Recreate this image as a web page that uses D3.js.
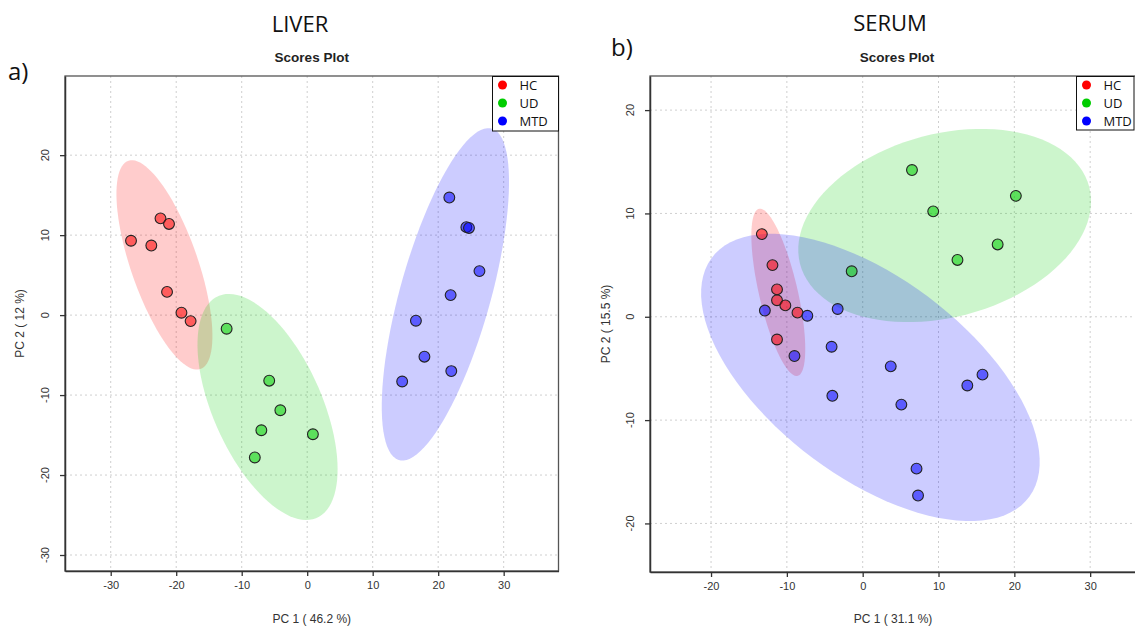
<!DOCTYPE html>
<html>
<head>
<meta charset="utf-8">
<script src="https://cdn.jsdelivr.net/npm/d3@7"></script>
<style>
  body { margin: 0; background: #fff; }
  text { font-family: "Liberation Sans", Arial, sans-serif; }
  .big { font-family: "Open Sans", sans-serif; }
</style>
</head>
<body>
<div id="main"></div>
<script>
// group names and colours
const groups = ["HC", "UD", "MTD"];
const groupColors = { HC: "#ff0000", UD: "#00cd00", MTD: "#0000ff" };

// LIVER scores [PC1, PC2]
const liverHC = [[-26.9, 9.3], [-23.8, 8.7], [-22.4, 12.1], [-21.1, 11.4], [-21.4, 2.9], [-19.2, 0.3], [-17.8, -0.75]];
const liverUD = [[-12.3, -1.7], [-5.8, -8.2], [-4.1, -11.9], [-7.0, -14.4], [-8.0, -17.8], [0.87, -14.9]];
const liverMTD = [[21.7, 14.7], [24.3, 11.0], [24.7, 10.9], [26.3, 5.5], [21.9, 2.5], [16.6, -0.7], [17.9, -5.2], [22.0, -7.0], [14.5, -8.3]];

// SERUM scores [PC1, PC2]
const serumHC = [[-13.3, 8.0], [-11.9, 5.0], [-11.3, 2.65], [-11.3, 1.6], [-10.2, 1.1], [-8.6, 0.4], [-11.3, -2.2]];
const serumUD = [[6.5, 14.2], [20.2, 11.7], [9.3, 10.2], [17.8, 7.0], [12.5, 5.5], [-1.45, 4.4]];
const serumMTD = [[-12.9, 0.6], [-7.3, 0.1], [-3.3, 0.75], [-4.1, -2.9], [-9.0, -3.8], [3.7, -4.8], [15.8, -5.6], [13.8, -6.65], [-4.0, -7.65], [5.1, -8.5], [7.1, -14.7], [7.3, -17.3]];

const liverXTicks = [-30, -20, -10, 0, 10, 20, 30];
const liverYTicks = [-30, -20, -10, 0, 10, 20];
const serumXTicks = [-20, -10, 0, 10, 20, 30];
const serumYTicks = [-20, -10, 0, 10, 20];

const panels = [
  {
    title: "LIVER", tag: "a)", xLab: "PC 1 ( 46.2 %)", yLab: "PC 2 ( 12 %)",
    data: { HC: liverHC, UD: liverUD, MTD: liverMTD },
    xTicks: liverXTicks, yTicks: liverYTicks,
    xDomain: [-36.98, 38.37], yDomain: [-32, 29.9],
    box: { l: 65, r: 558.5, t: 76, b: 571 },
    titleX: 300, tagX: 8, tagY: 80, yTickX: 49, yLabX: 24,
    legend: { l: 492.5, r: 558.5, t: 76.5, b: 131 }
  },
  {
    title: "SERUM", tag: "b)", xLab: "PC 1 ( 31.1 %)", yLab: "PC 2 ( 15.5 %)",
    data: { HC: serumHC, UD: serumUD, MTD: serumMTD },
    xTicks: serumXTicks, yTicks: serumYTicks,
    xDomain: [-28.05, 37.1], yDomain: [-24.7, 23.3],
    box: { l: 650, r: 1144, t: 76, b: 572 },
    titleX: 890, tagX: 611, tagY: 56, yTickX: 634, yLabX: 610,
    legend: { l: 1076.5, r: 1134, t: 76.5, b: 130 }
  }
];

const svg = d3.select("#main").append("svg")
  .attr("width", 1135)
  .attr("height", 626);

// 95% data ellipse, same recipe as ellipse::ellipse on the covariance
function dataEllipse(pts) {
  const n = pts.length;
  const mx = d3.mean(pts, d => d[0]), my = d3.mean(pts, d => d[1]);
  let sxx = 0, syy = 0, sxy = 0;
  pts.forEach(p => {
    sxx += (p[0] - mx) ** 2;
    syy += (p[1] - my) ** 2;
    sxy += (p[0] - mx) * (p[1] - my);
  });
  sxx /= n - 1; syy /= n - 1; sxy /= n - 1;
  const sx = Math.sqrt(sxx), sy = Math.sqrt(syy);
  const d = Math.acos(sxy / (sx * sy));
  const t = Math.sqrt(5.991465);
  return d3.range(0, 101).map(i => {
    const a = i / 100 * 2 * Math.PI;
    return [mx + t * sx * Math.cos(a + d / 2), my + t * sy * Math.cos(a - d / 2)];
  });
}

panels.forEach(p => {
  const b = p.box;
  const x = d3.scaleLinear().domain(p.xDomain).range([b.l, b.r]);
  const y = d3.scaleLinear().domain(p.yDomain).range([b.b, b.t]);
  const g = svg.append("g");

  // titles
  g.append("text").attr("class", "big")
    .attr("x", p.titleX).attr("y", p.title === "LIVER" ? 32 : 31)
    .attr("text-anchor", "middle").attr("font-size", 22).attr("fill", "#111")
    .text(p.title);
  g.append("text").attr("class", "big")
    .attr("x", p.tagX).attr("y", p.tagY)
    .attr("font-size", 24).attr("fill", "#111")
    .text(p.tag);
  g.append("text")
    .attr("x", (b.l + b.r) / 2).attr("y", 62)
    .attr("text-anchor", "middle").attr("font-size", 13.5).attr("font-weight", "bold")
    .attr("fill", "#222")
    .text("Scores Plot");

  // grid
  g.selectAll(".gx").data(p.xTicks).enter().append("line")
    .attr("x1", d => x(d)).attr("x2", d => x(d))
    .attr("y1", b.t).attr("y2", b.b)
    .attr("stroke", "#cfcfcf").attr("stroke-dasharray", "2,3");
  g.selectAll(".gy").data(p.yTicks).enter().append("line")
    .attr("y1", d => y(d)).attr("y2", d => y(d))
    .attr("x1", b.l).attr("x2", b.r)
    .attr("stroke", "#cfcfcf").attr("stroke-dasharray", "2,3");

  // ellipses
  const line = d3.line().x(d => x(d[0])).y(d => y(d[1]));
  groups.forEach(grp => {
    g.append("path")
      .attr("d", line(dataEllipse(p.data[grp])) + "Z")
      .attr("fill", groupColors[grp]).attr("fill-opacity", 0.2)
      .attr("stroke", "none");
  });

  // points
  groups.forEach(grp => {
    g.selectAll(".pt-" + grp).data(p.data[grp]).enter().append("circle")
      .attr("cx", d => x(d[0])).attr("cy", d => y(d[1]))
      .attr("r", 5.4)
      .attr("fill", groupColors[grp]).attr("fill-opacity", 0.55)
      .attr("stroke", "#222").attr("stroke-width", 1.1);
  });

  // box
  g.append("rect")
    .attr("x", b.l).attr("y", b.t)
    .attr("width", b.r - b.l).attr("height", b.b - b.t)
    .attr("fill", "none").attr("stroke", "#555").attr("stroke-width", 1.3);

  // axes
  const xAxis = g.append("g")
    .attr("transform", `translate(0,${b.b})`)
    .call(d3.axisBottom(x).tickValues(p.xTicks).tickSize(5).tickSizeOuter(0).tickFormat(d => String(d)));
  xAxis.select(".domain").attr("stroke", "#333").attr("stroke-width", 1.5);
  xAxis.selectAll(".tick line").attr("stroke", "#333").attr("stroke-width", 1.3);
  xAxis.selectAll(".tick text")
    .attr("y", 18).attr("dy", 0).attr("font-size", 11).attr("fill", "#333")
    .attr("font-family", "Liberation Sans, Arial, sans-serif");

  const yAxis = g.append("g")
    .attr("transform", `translate(${b.l},0)`)
    .call(d3.axisLeft(y).tickValues(p.yTicks).tickSize(5).tickSizeOuter(0));
  yAxis.select(".domain").attr("stroke", "#333").attr("stroke-width", 1.5);
  yAxis.selectAll(".tick line").attr("stroke", "#333").attr("stroke-width", 1.3);
  yAxis.selectAll(".tick text").remove();
  g.selectAll(".ylab").data(p.yTicks).enter().append("text")
    .attr("transform", d => `translate(${p.yTickX},${y(d)}) rotate(-90)`)
    .attr("text-anchor", "middle").attr("font-size", 11).attr("fill", "#333")
    .text(d => String(d));

  // axis titles
  g.append("text")
    .attr("x", (b.l + b.r) / 2 + (p.title === "LIVER" ? 0 : -4)).attr("y", 623)
    .attr("text-anchor", "middle").attr("font-size", 12).attr("fill", "#333")
    .text(p.xLab);
  g.append("text")
    .attr("transform", `translate(${p.yLabX},${(b.t + b.b) / 2}) rotate(-90)`)
    .attr("text-anchor", "middle").attr("font-size", 12).attr("fill", "#333")
    .text(p.yLab);

  // legend
  const L = p.legend;
  g.append("rect")
    .attr("x", L.l).attr("y", L.t)
    .attr("width", L.r - L.l).attr("height", L.b - L.t)
    .attr("fill", "#fff").attr("stroke", "#111").attr("stroke-width", 1);
  groups.forEach((grp, i) => {
    const cy = L.t + 8.5 + i * 18;
    g.append("circle")
      .attr("cx", L.l + 10).attr("cy", cy).attr("r", 4.5)
      .attr("fill", groupColors[grp]);
    g.append("text").attr("class", "big")
      .attr("x", L.l + 27).attr("y", cy + 4.5)
      .attr("font-size", 13).attr("fill", "#111")
      .text(grp);
  });
});
</script>
</body>
</html>
